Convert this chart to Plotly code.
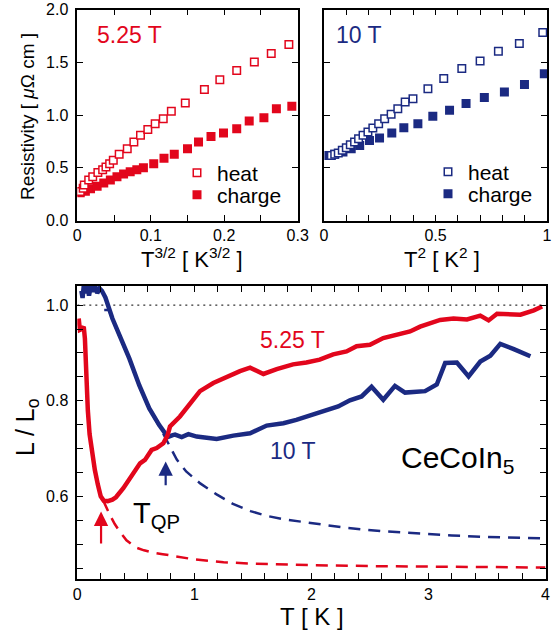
import plotly.graph_objects as go

RED = "#e2061c"
BLUE = "#1b2a82"
FONT = "Liberation Sans, Arial, Helvetica, sans-serif"

# ---- top-left: 5.25 T, resistivity vs T^{3/2}
tl_heat_x = [0.004, 0.008, 0.0095, 0.0155, 0.021, 0.028, 0.0345, 0.039, 0.044, 0.049, 0.057, 0.068,
             0.077, 0.086, 0.096, 0.106, 0.117, 0.128, 0.147, 0.173, 0.194, 0.217, 0.241, 0.264, 0.288]
tl_heat_y = [0.275, 0.305, 0.336, 0.384, 0.415, 0.455, 0.480, 0.506, 0.538, 0.570, 0.627, 0.680,
             0.744, 0.807, 0.862, 0.918, 0.965, 1.035, 1.114, 1.241, 1.335, 1.421, 1.503, 1.582, 1.668]
tl_charge_x = [0.004, 0.011, 0.018, 0.027, 0.036, 0.045, 0.054, 0.063, 0.072, 0.081, 0.090, 0.104,
               0.118, 0.132, 0.150, 0.165, 0.182, 0.199, 0.217, 0.234, 0.254, 0.271, 0.292]
tl_charge_y = [0.262, 0.278, 0.300, 0.325, 0.355, 0.385, 0.415, 0.440, 0.462, 0.482, 0.500, 0.538,
               0.590, 0.627, 0.680, 0.744, 0.797, 0.829, 0.870, 0.943, 0.975, 1.060, 1.082]

# ---- top-right: 10 T, resistivity vs T^2
tr_heat_x = [0.033, 0.048, 0.064, 0.082, 0.100, 0.118, 0.137, 0.155, 0.175, 0.197, 0.219, 0.245,
             0.272, 0.301, 0.331, 0.364, 0.399, 0.466, 0.537, 0.618, 0.700, 0.782, 0.876, 0.981]
tr_heat_y = [0.617, 0.627, 0.639, 0.665, 0.690, 0.718, 0.744, 0.775, 0.807, 0.839, 0.877, 0.918,
             0.965, 1.006, 1.060, 1.123, 1.155, 1.250, 1.345, 1.440, 1.513, 1.604, 1.677, 1.782]
tr_charge_x = [0.022, 0.048, 0.085, 0.122, 0.160, 0.204, 0.249, 0.304, 0.358, 0.421, 0.488, 0.563,
               0.637, 0.719, 0.809, 0.899, 0.988]
tr_charge_y = [0.617, 0.627, 0.649, 0.680, 0.712, 0.759, 0.782, 0.829, 0.880, 0.918, 0.987, 1.044,
               1.108, 1.165, 1.218, 1.288, 1.392]

# ---- bottom: L/L0 vs T
red_T = [0.012, 0.022, 0.040, 0.055, 0.065, 0.072, 0.080, 0.090, 0.105, 0.125, 0.150, 0.175, 0.200,
         0.225, 0.260, 0.300, 0.330, 0.393, 0.479, 0.536, 0.578, 0.635, 0.678, 0.735, 0.770, 0.792,
         0.877, 0.963, 1.048, 1.162, 1.276, 1.390, 1.476, 1.590, 1.704, 1.843, 1.957, 2.071, 2.186,
         2.300, 2.386, 2.500, 2.614, 2.729, 2.843, 2.929, 3.014, 3.100, 3.214, 3.329, 3.443, 3.514,
         3.586, 3.700, 3.786, 3.900, 3.971]
red_L = [0.972, 0.948, 0.950, 0.955, 0.930, 0.880, 0.830, 0.780, 0.730, 0.690, 0.655, 0.625, 0.600,
         0.591, 0.590, 0.593, 0.598, 0.617, 0.648, 0.669, 0.676, 0.697, 0.701, 0.711, 0.727, 0.746,
         0.767, 0.795, 0.820, 0.837, 0.850, 0.862, 0.869, 0.856, 0.866, 0.876, 0.880, 0.886, 0.897,
         0.903, 0.914, 0.917, 0.931, 0.938, 0.945, 0.955, 0.963, 0.969, 0.972, 0.970, 0.978, 0.968,
         0.982, 0.980, 0.980, 0.989, 0.997]
blue_T = [0.035, 0.045, 0.055, 0.070, 0.085, 0.100, 0.115, 0.130, 0.150, 0.170, 0.190, 0.210, 0.240,
          0.270, 0.300, 0.360, 0.445, 0.530, 0.615, 0.700, 0.773, 0.815, 0.835, 0.892, 0.949, 1.020,
          1.105, 1.191, 1.333, 1.476, 1.618, 1.761, 1.871, 2.014, 2.129, 2.229, 2.329, 2.429, 2.514,
          2.614, 2.714, 2.800, 2.971, 3.071, 3.143, 3.243, 3.343, 3.443, 3.529, 3.614, 3.729, 3.871]
blue_L = [1.030, 1.015, 1.040, 1.025, 1.045, 1.020, 1.040, 1.028, 1.042, 1.025, 1.035, 1.030, 1.016,
          0.993, 0.972, 0.937, 0.888, 0.832, 0.784, 0.749, 0.724, 0.728, 0.729, 0.724, 0.730, 0.725,
          0.722, 0.720, 0.727, 0.732, 0.748, 0.753, 0.760, 0.771, 0.781, 0.788, 0.801, 0.809, 0.829,
          0.802, 0.831, 0.817, 0.820, 0.834, 0.879, 0.880, 0.851, 0.882, 0.894, 0.919, 0.908, 0.893]
red_fit_T = [0.22, 0.25, 0.28, 0.32, 0.36, 0.42, 0.50, 0.57, 0.65, 0.73, 0.82, 0.91, 1.0, 1.12, 1.25,
             1.5, 1.75, 2.0, 2.5, 3.0, 3.5, 4.0]
red_fit_L = [0.592, 0.575, 0.560, 0.542, 0.527, 0.508, 0.493, 0.487, 0.482, 0.479, 0.475, 0.471,
             0.468, 0.465, 0.462, 0.459, 0.457, 0.456, 0.454, 0.453, 0.452, 0.451]
blue_fit_T = [0.23, 0.27, 0.30, 0.36, 0.445, 0.53, 0.615, 0.70, 0.78, 0.85, 0.93, 1.05, 1.19, 1.33,
              1.48, 1.62, 1.76, 1.90, 2.05, 2.30, 2.60, 2.90, 3.20, 3.50, 3.75, 3.96]
blue_fit_L = [0.990, 0.990, 0.970, 0.935, 0.886, 0.830, 0.782, 0.747, 0.710, 0.677, 0.652, 0.627,
              0.604, 0.584, 0.569, 0.559, 0.552, 0.547, 0.542, 0.534, 0.527, 0.522, 0.518, 0.515,
              0.513, 0.512]
unity_T = [0, 4]
unity_L = [1.0, 1.0]
# T_QP arrows: (T, tip L, tail L)
tqp_T = [0.203, 0.755]
tqp_tip = [0.568, 0.673]
tqp_tail = [0.498, 0.620]

fig = go.Figure()

# top-left
fig.add_trace(go.Scatter(x=tl_charge_x, y=tl_charge_y, mode="markers", name="charge",
                         marker=dict(symbol="square", size=9, color=RED, line=dict(width=0)),
                         xaxis="x", yaxis="y", legend="legend2"))
fig.add_trace(go.Scatter(x=tl_heat_x, y=tl_heat_y, mode="markers", name="heat",
                         marker=dict(symbol="square", size=7.5, color="white", line=dict(width=1.5, color=RED)),
                         xaxis="x", yaxis="y", legend="legend"))
# top-right
fig.add_trace(go.Scatter(x=tr_charge_x, y=tr_charge_y, mode="markers", name="charge",
                         marker=dict(symbol="square", size=9, color=BLUE, line=dict(width=0)),
                         xaxis="x2", yaxis="y2", legend="legend4"))
fig.add_trace(go.Scatter(x=tr_heat_x, y=tr_heat_y, mode="markers", name="heat",
                         marker=dict(symbol="square", size=7.5, color="white", line=dict(width=1.5, color=BLUE)),
                         xaxis="x2", yaxis="y2", legend="legend3"))
# bottom
fig.add_trace(go.Scatter(x=unity_T, y=unity_L, mode="lines", showlegend=False,
                         line=dict(color="black", width=1, dash="2px,4px"), xaxis="x3", yaxis="y3"))
fig.add_trace(go.Scatter(x=red_fit_T, y=red_fit_L, mode="lines", showlegend=False,
                         line=dict(color=RED, width=2.5, dash="12px,8px"), xaxis="x3", yaxis="y3"))
fig.add_trace(go.Scatter(x=blue_fit_T, y=blue_fit_L, mode="lines", showlegend=False,
                         line=dict(color=BLUE, width=2.5, dash="12px,8px"), xaxis="x3", yaxis="y3"))
fig.add_trace(go.Scatter(x=blue_T, y=blue_L, mode="lines", showlegend=False,
                         line=dict(color=BLUE, width=4.5), xaxis="x3", yaxis="y3"))
fig.add_trace(go.Scatter(x=red_T, y=red_L, mode="lines", showlegend=False,
                         line=dict(color=RED, width=4.5), xaxis="x3", yaxis="y3"))

W, H = 554, 633


def px(x):
    return x / W


def py(y):
    return 1 - y / H


axis_common = dict(showline=True, linecolor="black", linewidth=1.5, mirror="allticks",
                   ticks="inside", ticklen=6, tickwidth=1.2, tickcolor="black",
                   showgrid=False, zeroline=False, automargin=False,
                   tickfont=dict(family=FONT, size=16, color="black"))


def leg(xc, yc):
    return dict(x=px(xc), y=py(yc), xanchor="left", yanchor="middle", bgcolor="rgba(0,0,0,0)",
                font=dict(family=FONT, size=21, color="black"), itemwidth=30, borderwidth=0)


fig.update_layout(
    template="none",
    width=W, height=H, autosize=False, margin=dict(l=0, r=0, t=0, b=0, autoexpand=False),
    paper_bgcolor="white", plot_bgcolor="white",
    font=dict(family=FONT, color="black"),
    xaxis=dict(domain=[px(77.3), px(297.7)], range=[0, 0.3], anchor="y",
               tickvals=[0, 0.1, 0.2, 0.3], ticktext=["0", "0.1", "0.2", "0.3"],
               minor=dict(dtick=0.05, ticks="inside", ticklen=6, tickcolor="black"), **axis_common),
    yaxis=dict(domain=[py(220.5), py(9.5)], range=[0, 2.0], anchor="x",
               tickvals=[0, 0.5, 1.0, 1.5, 2.0], ticktext=["0.0", "0.5", "1.0", "1.5", "2.0"],
               ticklabelstandoff=4, **axis_common),
    xaxis2=dict(domain=[px(324), px(547)], range=[0, 1], anchor="y2",
                tickvals=[0, 0.5, 1], ticktext=["0", "0.5", "1"],
                minor=dict(dtick=0.1, ticks="inside", ticklen=6, tickcolor="black"), **axis_common),
    yaxis2=dict(domain=[py(220.5), py(9.5)], range=[0, 2.0], anchor="x2",
                tickvals=[0, 0.5, 1.0, 1.5, 2.0], showticklabels=False, **axis_common),
    xaxis3=dict(domain=[px(77.3), px(545.5)], range=[0, 4], anchor="y3",
                tickvals=[0, 1, 2, 3, 4], ticktext=["0", "1", "2", "3", "4"],
                minor=dict(dtick=0.2, ticks="inside", ticklen=6, tickcolor="black"), **axis_common),
    yaxis3=dict(domain=[py(579), py(286)], range=[0.427, 1.04], anchor="x3",
                tickvals=[0.6, 0.8, 1.0], ticktext=["0.6", "0.8", "1.0"], ticklabelstandoff=4,
                minor=dict(dtick=0.05, tick0=0, ticks="inside", ticklen=6, tickcolor="black"), **axis_common),
    legend=leg(177, 173),
    legend2=leg(177, 195),
    legend3=leg(428, 172),
    legend4=leg(428, 194),
)

ann = []


def text_paper(x, y, text, size, color="black", angle=0, xanchor="center", yanchor="middle"):
    ann.append(dict(x=px(x), y=py(y), xref="paper", yref="paper", text=text, showarrow=False,
                    font=dict(family=FONT, size=size, color=color), textangle=angle,
                    xanchor=xanchor, yanchor=yanchor))


# axis titles
text_paper(27, 117, "Resistivity [ <i>μ</i>Ω cm ]", 19, angle=-90)
text_paper(192, 258, "T<sup>3/2</sup> [ K<sup>3/2</sup> ]", 22)
text_paper(442, 258, "T<sup>2</sup> [ K<sup>2</sup> ]", 22)
text_paper(27, 428, "L / L<sub>o</sub>", 25, angle=-90)
text_paper(312, 616, "T [ K ]", 24)
# panel labels
text_paper(129, 35, "5.25 T", 23, color=RED)
text_paper(359, 35, "10 T", 23, color=BLUE)

# bottom panel texts (data coords)
for x, y, t, s, c, xa in [(1.84, 0.927, "5.25 T", 23, RED, "center"),
                          (1.84, 0.694, "10 T", 23, BLUE, "center"),
                          (3.25, 0.676, "CeCoIn<sub>5</sub>", 30, "black", "center"),
                          (0.455, 0.560, "T<sub>QP</sub>", 29, "black", "left")]:
    ann.append(dict(x=x, y=y, xref="x3", yref="y3", text=t, showarrow=False,
                    font=dict(family=FONT, size=s, color=c), xanchor=xa, yanchor="middle"))

for T, tip, tail, c in zip(tqp_T, tqp_tip, tqp_tail, [RED, BLUE]):
    ann.append(dict(x=T, y=tip, ax=T, ay=tail, xref="x3", yref="y3", axref="x3", ayref="y3",
                    text="", showarrow=True, arrowhead=2, arrowsize=1.3, arrowwidth=2.2,
                    arrowcolor=c, standoff=0, startstandoff=0))

fig.update_layout(annotations=ann)
fig.write_html("out.html",
               config={"responsive": False, "displayModeBar": False},
               post_script="document.documentElement.style.overflow='hidden';"
                           "document.body.style.margin='0';document.body.style.overflow='hidden';")
